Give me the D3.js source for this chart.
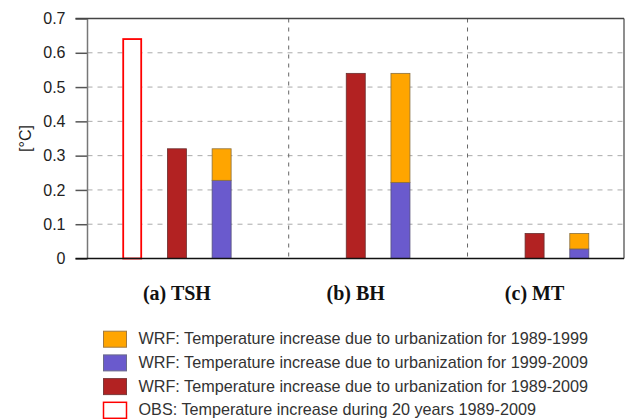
<!DOCTYPE html>
<html>
<head>
<meta charset="utf-8">
<script src="https://cdn.jsdelivr.net/npm/d3@7"></script>
<style>
  body { margin: 0; background: #fff; }
  svg { display: block; font-family: "Liberation Sans", Arial, sans-serif; }
</style>
</head>
<body>
<svg id="chart" width="625" height="419"></svg>
<script>
// Sites and values
const sites = ["(a) TSH", "(b) BH", "(c) MT"];
const obs = [0.64, null, null];          // OBS 1989-2009
const wrf8909 = [0.32, 0.54, 0.073];     // WRF 1989-2009
const wrf9909 = [0.228, 0.222, 0.028];   // WRF 1999-2009 (stack bottom)
const wrf8999 = [0.092, 0.318, 0.045];   // WRF 1989-1999 (stack top)
const yTicks = [0, 0.1, 0.2, 0.3, 0.4, 0.5, 0.6, 0.7];

const legendItems = [
  { text: "WRF: Temperature increase due to urbanization for 1989-1999", fill: "#ffa500", stroke: "#a07a40" },
  { text: "WRF: Temperature increase due to urbanization for 1999-2009", fill: "#6a5acd", stroke: "#6a6a8a" },
  { text: "WRF: Temperature increase due to urbanization for 1989-2009", fill: "#b22222", stroke: "#7a3a3a" },
  { text: "OBS: Temperature increase during 20 years 1989-2009", fill: "#fff", stroke: "#ff0000" }
];

const svg = d3.select("#chart");
const pLeft = 87.5, pRight = 624, pTop = 18.5, pBottom = 258.5;

// x in "slot" units: 4 slots per site
const x = d3.scaleLinear().domain([0, 12]).range([pLeft, pRight]);
const y = d3.scaleLinear().domain([0, 0.7]).range([pBottom, pTop]);
const bw = 19;

// Horizontal dashed grid
svg.append("g")
  .selectAll("line")
  .data(yTicks.slice(1, -1))
  .join("line")
  .attr("x1", pLeft).attr("x2", pRight)
  .attr("y1", d => y(d)).attr("y2", d => y(d))
  .attr("stroke", "#aaa").attr("stroke-width", 1)
  .attr("stroke-dasharray", "5,5");

// Vertical separators between sites
svg.append("g")
  .selectAll("line")
  .data([4.5, 8.5])
  .join("line")
  .attr("x1", d => x(d)).attr("x2", d => x(d))
  .attr("y1", pTop).attr("y2", pBottom)
  .attr("stroke", "#666").attr("stroke-width", 1)
  .attr("stroke-dasharray", "4,5");

// Y axis ticks and labels
const yAxis = d3.axisLeft(y).tickValues(yTicks).tickSize(12).tickPadding(10)
  .tickFormat(d => d === 0 ? "0" : d3.format(".1f")(d));
svg.append("g")
  .attr("transform", `translate(${pLeft},0)`)
  .call(yAxis)
  .call(g => g.select(".domain").remove())
  .call(g => g.selectAll("line").attr("stroke", "#555").attr("stroke-width", 1.5))
  .call(g => g.selectAll("text").attr("font-size", 16).attr("fill", "#222")
    .attr("font-family", "'Liberation Sans', Arial, sans-serif"));

// Frame
svg.append("line").attr("x1", pLeft).attr("x2", pLeft).attr("y1", pTop).attr("y2", pBottom)
  .attr("stroke", "#777").attr("stroke-width", 1.5);
svg.append("line").attr("x1", pLeft - 12).attr("x2", pRight).attr("y1", pTop).attr("y2", pTop)
  .attr("stroke", "#444").attr("stroke-width", 1.5);
svg.append("line").attr("x1", pRight).attr("x2", pRight).attr("y1", pTop).attr("y2", pBottom)
  .attr("stroke", "#444").attr("stroke-width", 1.2);

// Bars
const bars = svg.append("g");
sites.forEach((s, i) => {
  const base = 4 * i + 1;
  if (obs[i] != null) {
    bars.append("rect")
      .attr("x", x(base) - bw / 2 + 0.5).attr("y", y(obs[i]))
      .attr("width", bw - 1).attr("height", y(0) - y(obs[i]))
      .attr("fill", "#fff").attr("stroke", "#ff0000").attr("stroke-width", 1.8);
  }
  bars.append("rect")
    .attr("x", x(base + 1) - bw / 2).attr("y", y(wrf8909[i]))
    .attr("width", bw).attr("height", y(0) - y(wrf8909[i]))
    .attr("fill", "#b22222").attr("stroke", "#6a3030").attr("stroke-width", 0.8);
  bars.append("rect")
    .attr("x", x(base + 2) - bw / 2).attr("y", y(wrf9909[i]))
    .attr("width", bw).attr("height", y(0) - y(wrf9909[i]))
    .attr("fill", "#6a5acd").attr("stroke", "#55507a").attr("stroke-width", 0.8);
  bars.append("rect")
    .attr("x", x(base + 2) - bw / 2).attr("y", y(wrf9909[i] + wrf8999[i]))
    .attr("width", bw).attr("height", y(wrf9909[i]) - y(wrf9909[i] + wrf8999[i]))
    .attr("fill", "#ffa500").attr("stroke", "#8a7040").attr("stroke-width", 0.8);
});

// Bottom axis line
svg.append("line").attr("x1", pLeft - 12).attr("x2", pRight).attr("y1", pBottom).attr("y2", pBottom)
  .attr("stroke", "#111").attr("stroke-width", 1.5);

// Y label
svg.append("text")
  .attr("transform", "translate(31,138.5) rotate(-90)")
  .attr("text-anchor", "middle")
  .attr("font-size", 16).attr("fill", "#222")
  .text("[°C]");

// Site labels, centred under the 1989-2009 WRF bar
svg.append("g")
  .selectAll("text")
  .data(sites)
  .join("text")
  .attr("x", (d, i) => x(4 * i + 2))
  .attr("y", 300)
  .attr("text-anchor", "middle")
  .attr("font-family", "'Liberation Serif', 'Times New Roman', serif")
  .attr("font-weight", "bold")
  .attr("font-size", 20)
  .attr("fill", "#111")
  .text(d => d);

// Legend
const lg = svg.append("g").attr("transform", "translate(103,330.7)");
const rows = lg.selectAll("g").data(legendItems).join("g")
  .attr("transform", (d, i) => `translate(0,${i * 23.7})`);
rows.append("rect")
  .attr("x", 0.5).attr("y", 0.5).attr("width", 23).attr("height", 16)
  .attr("fill", d => d.fill).attr("stroke", d => d.stroke)
  .attr("stroke-width", (d, i) => i === 3 ? 1.5 : 1);
rows.append("text")
  .attr("x", 35.5).attr("y", 13.5)
  .attr("font-size", 16.2).attr("fill", "#333")
  .text(d => d.text);
</script>
</body>
</html>
